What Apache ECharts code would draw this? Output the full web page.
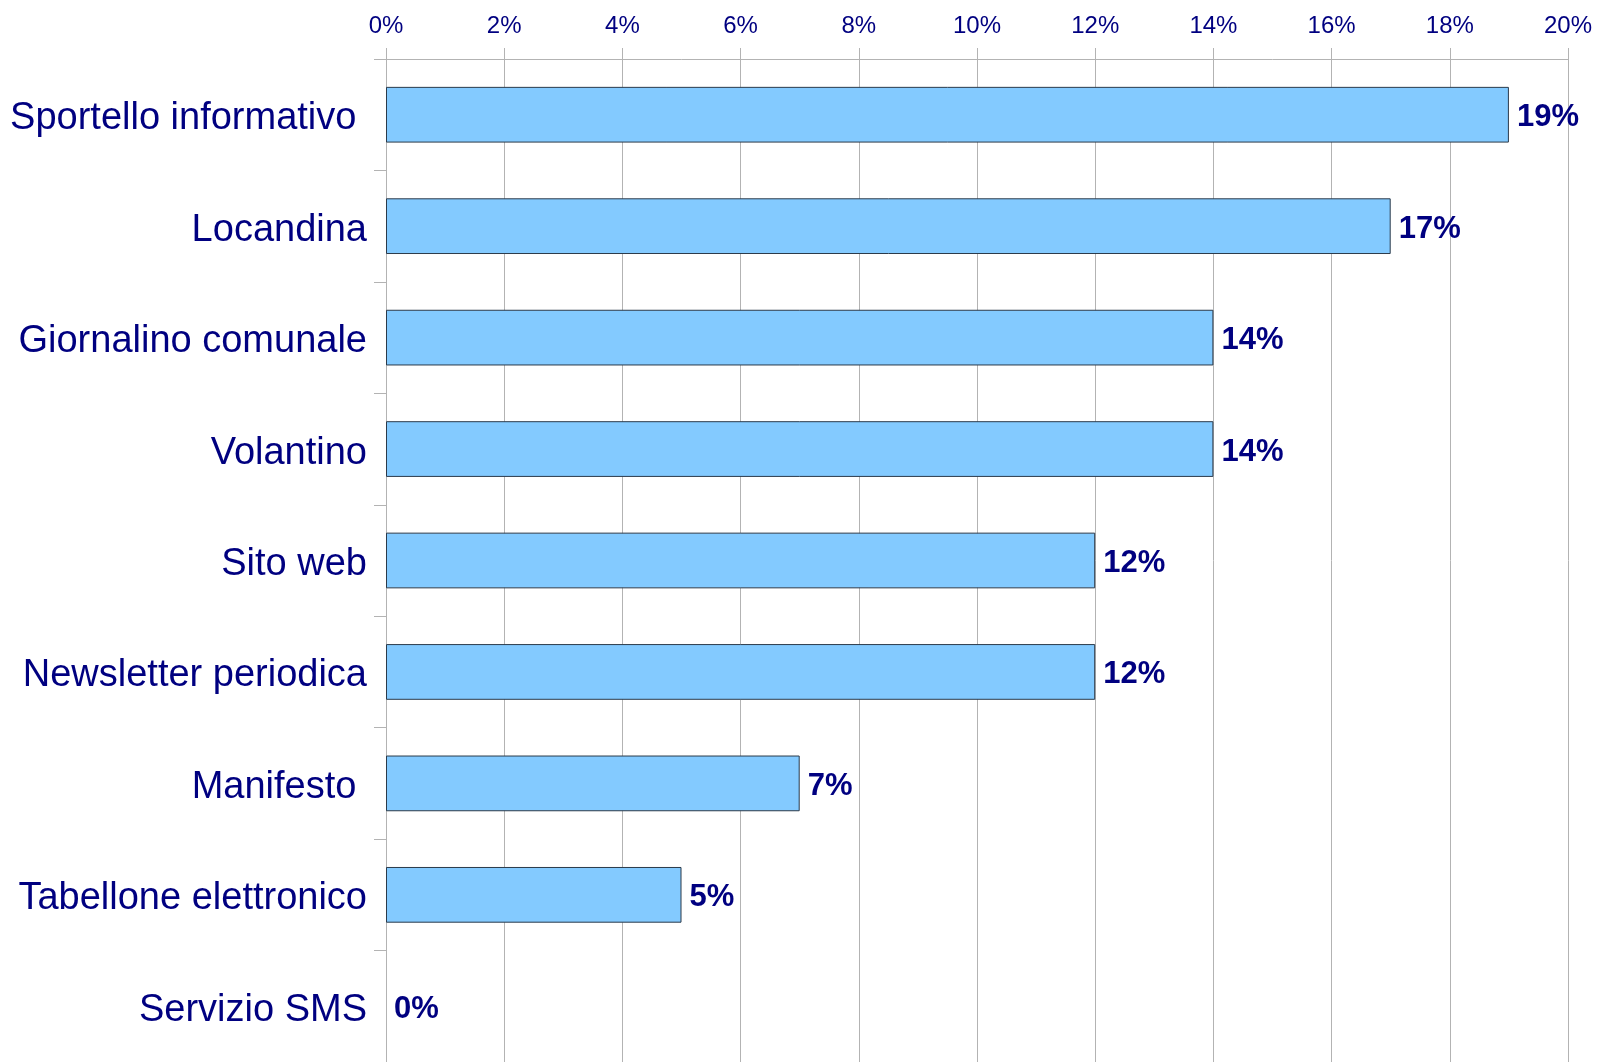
<!DOCTYPE html>
<html>
<head>
<meta charset="utf-8">
<title>Canali informativi</title>
<script src="https://cdn.jsdelivr.net/npm/echarts@6/dist/echarts.min.js"></script>
<style>
  html, body { margin: 0; padding: 0; background: #fff; }
  #main { width: 1597px; height: 1062px; }
</style>
</head>
<body>
<div id="main"></div>
<script>
// categorie (dall'alto verso il basso)
const categories = [
  'Sportello informativo ',
  'Locandina',
  'Giornalino comunale',
  'Volantino',
  'Sito web',
  'Newsletter periodica',
  'Manifesto ',
  'Tabellone elettronico',
  'Servizio SMS'
]
// valori in percentuale
const values = [19, 17, 14, 14, 12, 12, 7, 5, 0]
// scala asse x
const axisMin = 0
const axisMax = 20
const axisStep = 2

const navy = '#000080'
const myChart = echarts.init(document.querySelector('#main'))

myChart.setOption({
  animation: false,
  grid: {
    left: 386,
    top: 59,
    width: 1182,
    height: 1008
  },
  xAxis: {
    type: 'value',
    position: 'top',
    min: axisMin,
    max: axisMax,
    interval: axisStep,
    axisLine: { show: true, lineStyle: { color: '#b3b3b3', width: 1 } },
    axisTick: { show: true, length: 11, lineStyle: { color: '#b3b3b3' } },
    splitLine: { show: true, lineStyle: { color: '#b3b3b3', width: 1 } },
    axisLabel: {
      formatter: '{value}%',
      color: navy,
      fontFamily: 'Liberation Sans',
      fontSize: 24,
      margin: 21
    }
  },
  yAxis: {
    type: 'category',
    inverse: true,
    data: categories,
    axisLine: { show: true, lineStyle: { color: '#b3b3b3', width: 1 } },
    axisTick: { show: true, length: 12, lineStyle: { color: '#b3b3b3' } },
    axisLabel: {
      margin: 19,
      // testo spostato un po' in basso come nell'originale
      formatter: v => '{t|' + v + '}',
      rich: {
        t: {
          color: navy,
          fontFamily: 'Liberation Sans',
          fontSize: 38,
          padding: [8, 0, 0, 0]
        }
      }
    }
  },
  series: [
    {
      type: 'bar',
      // barra a zero senza bordo
      data: values.map(v => ({ value: v, itemStyle: { borderWidth: v === 0 ? 0 : 1 } })),
      barWidth: '50%',
      itemStyle: {
        color: '#83caff',
        borderColor: '#2b3a4a',
        borderWidth: 1
      },
      label: {
        show: true,
        position: 'right',
        distance: 8,
        offset: [0, 3],
        formatter: '{c}%',
        color: navy,
        fontFamily: 'Liberation Sans',
        fontWeight: 'bold',
        fontSize: 31
      }
    }
  ]
})
</script>
</body>
</html>
